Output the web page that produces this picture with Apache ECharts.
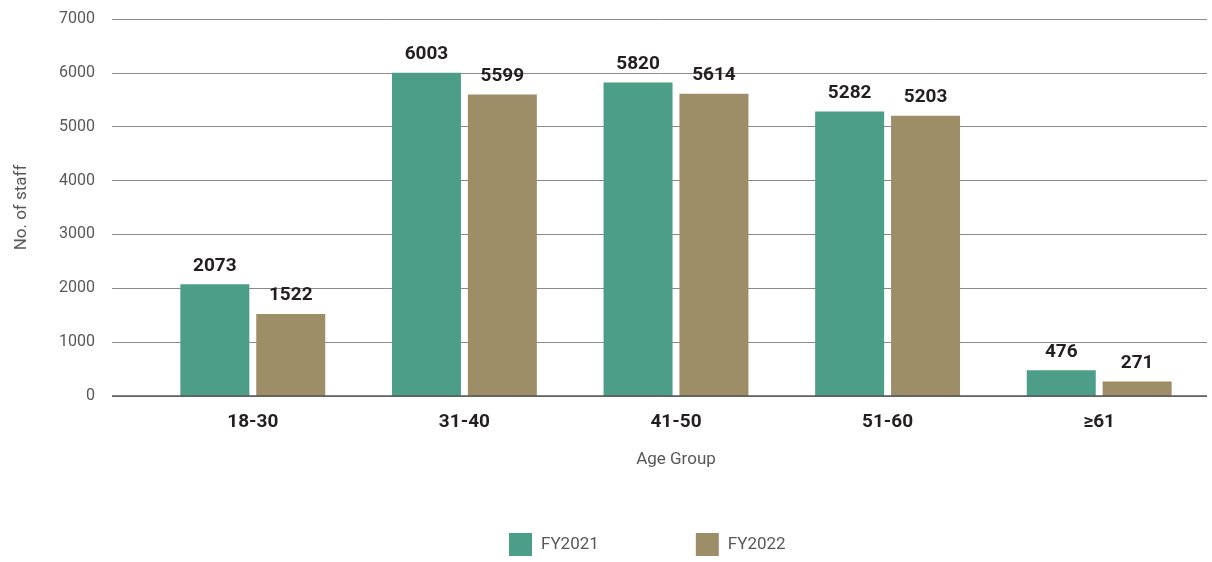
<!DOCTYPE html>
<html>
<head>
<meta charset="utf-8">
<script src="https://cdn.jsdelivr.net/npm/echarts@6/dist/echarts.min.js"></script>
<style>html,body{margin:0;padding:0;background:#fff}#c{width:1212px;height:562px}</style>
</head>
<body>
<div id="c"></div>
<script>
const categories = ['18-30', '31-40', '41-50', '51-60', '≥61'];
const fy2021 = [2073, 6003, 5820, 5282, 476];
const fy2022 = [1522, 5599, 5614, 5203, 271];
const seriesNames = ['FY2021', 'FY2022'];
const yTicks = { min: 0, max: 7000, interval: 1000 };

const FONT = 'Roboto';
const chart = echarts.init(document.getElementById('c'), null, { renderer: 'canvas' });
const labelStyle = { show: true, position: 'top', distance: 9, color: '#231f20', fontFamily: FONT, fontWeight: 'bold', fontSize: 19 };
chart.setOption({
  animation: false,
  textStyle: { fontFamily: FONT },
  grid: [
    { left: 112, right: 5, top: 19, bottom: 166 },
    { left: 147, right: 7, top: 19, bottom: 166 }
  ],
  legend: {
    left: 509, top: 533, padding: 0,
    itemWidth: 23, itemHeight: 23, itemGap: 97, icon: 'rect',
    textStyle: { color: '#595757', fontSize: 17, fontFamily: FONT, padding: [4, 0, 0, 4] },
    data: seriesNames
  },
  xAxis: [
    { gridIndex: 0, type: 'category', data: categories, show: false },
    {
      gridIndex: 1, type: 'category', data: categories,
      axisLine: { show: false }, axisTick: { show: false },
      axisLabel: { color: '#231f20', fontSize: 19, fontWeight: 'bold', fontFamily: FONT, margin: 17 },
      name: 'Age Group', nameLocation: 'middle', nameGap: 55,
      nameTextStyle: { color: '#595757', fontSize: 17, fontFamily: FONT }
    }
  ],
  yAxis: [
    {
      gridIndex: 0, type: 'value', min: yTicks.min, max: yTicks.max, interval: yTicks.interval,
      axisLine: { show: false }, axisTick: { show: false },
      axisLabel: { color: '#595757', fontSize: 16, fontFamily: FONT, margin: 17, formatter: v => String(v) },
      splitLine: { lineStyle: { color: '#8a8a8a', width: 1 } },
      name: 'No. of staff', nameLocation: 'middle', nameGap: 82,
      nameTextStyle: { color: '#595757', fontSize: 17, fontFamily: FONT }
    },
    {
      gridIndex: 1, type: 'value', min: yTicks.min, max: yTicks.max, interval: yTicks.interval,
      show: false, splitLine: { show: false }
    }
  ],
  series: [
    {
      name: 'baseline', type: 'line', xAxisIndex: 0, yAxisIndex: 0, data: [], silent: true,
      markLine: { symbol: 'none', silent: true, label: { show: false },
        lineStyle: { color: '#595757', type: 'solid', width: 1.5 }, data: [{ yAxis: 0 }] }
    },
    {
      name: seriesNames[0], type: 'bar', xAxisIndex: 1, yAxisIndex: 1, data: fy2021,
      barWidth: 69, barGap: '10%', itemStyle: { color: '#4d9e88' }, label: labelStyle
    },
    {
      name: seriesNames[1], type: 'bar', xAxisIndex: 1, yAxisIndex: 1, data: fy2022,
      barWidth: 69, barGap: '10%', itemStyle: { color: '#9e8e68' }, label: labelStyle
    }
  ]
});
</script>
</body>
</html>
